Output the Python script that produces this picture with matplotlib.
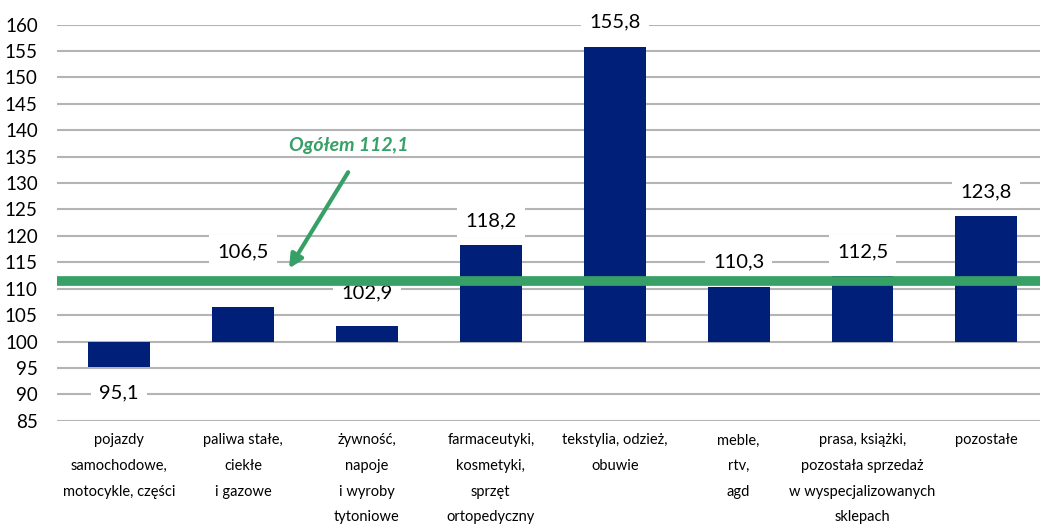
import numpy as np
import matplotlib.pyplot as plt

# data
categories = ["pojazdy\nsamochodowe,\nmotocykle, części",
              "paliwa stałe,\nciekłe\ni gazowe",
              "żywność,\nnapoje\ni wyroby\ntytoniowe",
              "farmaceutyki,\nkosmetyki,\nsprzęt\nortopedyczny",
              "tekstylia, odzież,\nobuwie",
              "meble,\nrtv,\nagd",
              "prasa, książki,\npozostała sprzedaż\nw wyspecjalizowanych\nsklepach",
              "pozostałe"]
values = [95.1, 106.5, 102.9, 118.2, 155.8, 110.3, 112.5, 123.8]
label_pos = [90.3, 117.0, 109.2, 122.9, 160.6, 115.1, 117.0, 128.4]
total = 112.1
base = 100

plt.rcParams['font.family'] = ['Lato', 'DejaVu Sans']

bar_color = "#001f78"
green = "#36a066"

fig = plt.figure(figsize=(10.4, 5.24), dpi=100)
ax = fig.add_axes([0.055, 0.197, 0.953, 0.756])

x = np.arange(len(values))
heights = [v - base for v in values]
ax.bar(x, heights, bottom=base, width=0.5, color=bar_color, zorder=2)

ax.set_ylim(85, 160)
ax.set_xlim(-0.5, 7.5)
ax.set_yticks(np.arange(85, 161, 5))
ax.yaxis.grid(True, color="#b4b4b4", linewidth=1.5, zorder=0)
ax.set_axisbelow(True)
for s in ax.spines.values():
    s.set_visible(False)
ax.tick_params(axis="y", length=0, labelsize=13.5, pad=14)
ax.tick_params(axis="x", length=0)
ax.set_xticks([])

# category labels
for i, c in enumerate(categories):
    ax.text(i, 82.6, c, ha="center", va="top", fontsize=10.5,
            linespacing=2.05, clip_on=False)

# value labels
for i, (v, p) in enumerate(zip(values, label_pos)):
    ax.text(i, p, f"{v:.1f}".replace(".", ","), ha="center", va="center",
            fontsize=14.5, zorder=4, clip_on=False,
            bbox=dict(facecolor="white", edgecolor="none", pad=6))

# total line, drawn over everything
ax.axhline(total - 0.55, color=green, linewidth=7, zorder=5)

ax.annotate("", xy=(1.36, 113.4), xytext=(1.86, 132.5),
            arrowprops=dict(arrowstyle="-|>,head_length=0.8,head_width=0.4",
                            color=green, lw=3), zorder=5)
ax.text(1.85, 137.2, "Ogółem 112,1", color=green, fontsize=14,
        fontweight="bold", fontstyle="italic", ha="center", va="center")

fig.savefig("out.png", dpi=100)
